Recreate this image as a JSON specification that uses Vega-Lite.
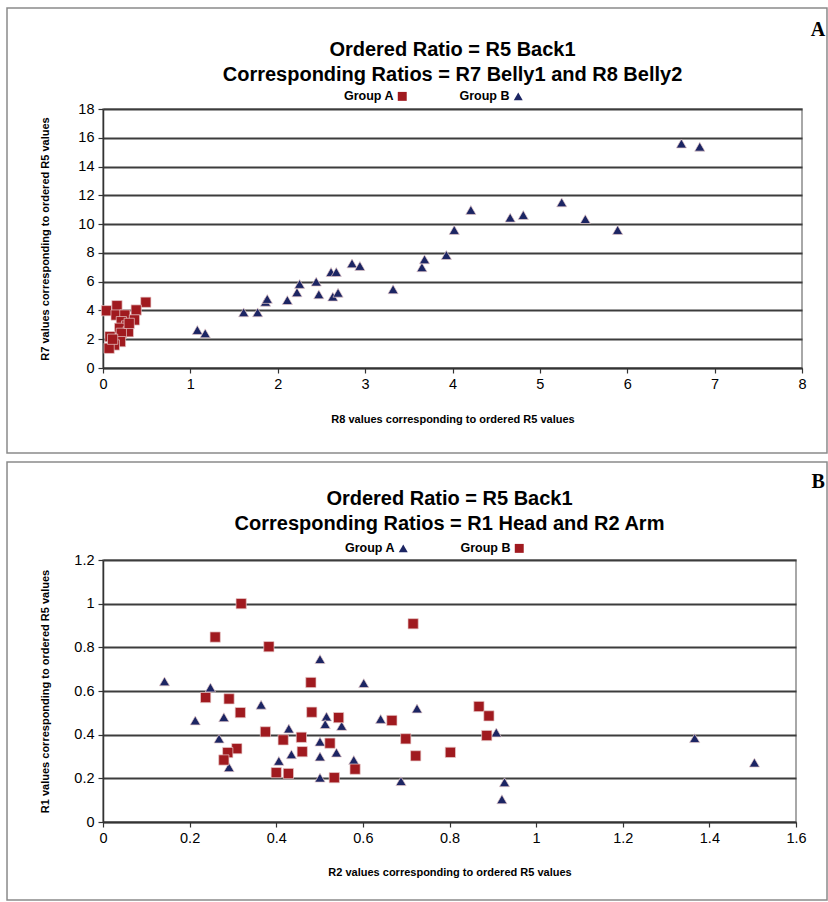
{
  "$schema": "https://vega.github.io/schema/vega-lite/v6.json",
  "background": "white",
  "padding": {"left": 5, "top": 6, "right": 0, "bottom": 0},
  "spacing": 5,
  "align": "none",
  "config": {
    "font": "Liberation Sans",
    "view": {"stroke": "#8c8c8c", "strokeWidth": 1.5},
    "axis": {
      "labelFont": "Liberation Sans", "labelFontSize": 14.5, "labelColor": "#000",
      "titleFont": "Liberation Sans", "titleFontSize": 11, "titleFontWeight": "bold", "titleColor": "#000",
      "domainColor": "#333", "domainWidth": 1.5, "tickColor": "#333", "tickSize": 5, "tickWidth": 1.2,
      "gridColor": "#3c3c3c", "gridWidth": 2, "gridOpacity": 1, "labelPadding": 4, "labelOverlap": false, "labelFlush": false
    },
    "legend": {"labelFont": "Liberation Sans", "labelFontSize": 12.5, "labelFontWeight": "bold", "labelColor": "#000"}
  },
  "datasets": {
    "panelA": [
      {"group": "Group A", "r8": 0.04, "r7": 3.98},
      {"group": "Group A", "r8": 0.16, "r7": 4.33},
      {"group": "Group A", "r8": 0.49, "r7": 4.57},
      {"group": "Group A", "r8": 0.38, "r7": 4.03},
      {"group": "Group A", "r8": 0.15, "r7": 3.68},
      {"group": "Group A", "r8": 0.25, "r7": 3.68},
      {"group": "Group A", "r8": 0.36, "r7": 3.34},
      {"group": "Group A", "r8": 0.21, "r7": 3.22},
      {"group": "Group A", "r8": 0.27, "r7": 2.92},
      {"group": "Group A", "r8": 0.19, "r7": 2.76},
      {"group": "Group A", "r8": 0.29, "r7": 2.52},
      {"group": "Group A", "r8": 0.21, "r7": 2.41},
      {"group": "Group A", "r8": 0.08, "r7": 2.18},
      {"group": "Group A", "r8": 0.20, "r7": 1.83},
      {"group": "Group A", "r8": 0.13, "r7": 1.60},
      {"group": "Group A", "r8": 0.07, "r7": 1.37},
      {"group": "Group A", "r8": 0.11, "r7": 2.00},
      {"group": "Group A", "r8": 0.30, "r7": 3.10},
      {"group": "Group B", "r8": 1.08, "r7": 2.64},
      {"group": "Group B", "r8": 1.17, "r7": 2.41},
      {"group": "Group B", "r8": 1.61, "r7": 3.87},
      {"group": "Group B", "r8": 1.77, "r7": 3.87},
      {"group": "Group B", "r8": 1.86, "r7": 4.60},
      {"group": "Group B", "r8": 1.88, "r7": 4.80},
      {"group": "Group B", "r8": 2.11, "r7": 4.72},
      {"group": "Group B", "r8": 2.22, "r7": 5.26},
      {"group": "Group B", "r8": 2.25, "r7": 5.84},
      {"group": "Group B", "r8": 2.44, "r7": 6.00},
      {"group": "Group B", "r8": 2.47, "r7": 5.12},
      {"group": "Group B", "r8": 2.63, "r7": 4.96},
      {"group": "Group B", "r8": 2.69, "r7": 5.23},
      {"group": "Group B", "r8": 2.61, "r7": 6.67},
      {"group": "Group B", "r8": 2.67, "r7": 6.67},
      {"group": "Group B", "r8": 2.85, "r7": 7.27},
      {"group": "Group B", "r8": 2.94, "r7": 7.09},
      {"group": "Group B", "r8": 3.32, "r7": 5.47},
      {"group": "Group B", "r8": 3.65, "r7": 7.00},
      {"group": "Group B", "r8": 3.68, "r7": 7.55},
      {"group": "Group B", "r8": 3.93, "r7": 7.85},
      {"group": "Group B", "r8": 4.02, "r7": 9.59},
      {"group": "Group B", "r8": 4.21, "r7": 10.98},
      {"group": "Group B", "r8": 4.66, "r7": 10.45},
      {"group": "Group B", "r8": 4.81, "r7": 10.63},
      {"group": "Group B", "r8": 5.25, "r7": 11.51},
      {"group": "Group B", "r8": 5.52, "r7": 10.35},
      {"group": "Group B", "r8": 5.89, "r7": 9.59},
      {"group": "Group B", "r8": 6.62, "r7": 15.60},
      {"group": "Group B", "r8": 6.83, "r7": 15.38}
    ],
    "panelB": [
      {"group": "Group A", "r2": 0.142, "r1": 0.644},
      {"group": "Group A", "r2": 0.248, "r1": 0.616},
      {"group": "Group A", "r2": 0.501, "r1": 0.746},
      {"group": "Group A", "r2": 0.365, "r1": 0.537},
      {"group": "Group A", "r2": 0.213, "r1": 0.465},
      {"group": "Group A", "r2": 0.279, "r1": 0.480},
      {"group": "Group A", "r2": 0.429, "r1": 0.428},
      {"group": "Group A", "r2": 0.516, "r1": 0.483},
      {"group": "Group A", "r2": 0.513, "r1": 0.448},
      {"group": "Group A", "r2": 0.551, "r1": 0.440},
      {"group": "Group A", "r2": 0.268, "r1": 0.382},
      {"group": "Group A", "r2": 0.501, "r1": 0.368},
      {"group": "Group A", "r2": 0.435, "r1": 0.310},
      {"group": "Group A", "r2": 0.501, "r1": 0.300},
      {"group": "Group A", "r2": 0.539, "r1": 0.318},
      {"group": "Group A", "r2": 0.406, "r1": 0.280},
      {"group": "Group A", "r2": 0.291, "r1": 0.251},
      {"group": "Group A", "r2": 0.501, "r1": 0.203},
      {"group": "Group A", "r2": 0.602, "r1": 0.636},
      {"group": "Group A", "r2": 0.725, "r1": 0.520},
      {"group": "Group A", "r2": 0.641, "r1": 0.472},
      {"group": "Group A", "r2": 0.908, "r1": 0.410},
      {"group": "Group A", "r2": 0.579, "r1": 0.284},
      {"group": "Group A", "r2": 0.688, "r1": 0.187},
      {"group": "Group A", "r2": 0.927, "r1": 0.182},
      {"group": "Group A", "r2": 0.921, "r1": 0.104},
      {"group": "Group A", "r2": 1.366, "r1": 0.384},
      {"group": "Group A", "r2": 1.504, "r1": 0.272},
      {"group": "Group B", "r2": 0.319, "r1": 1.000},
      {"group": "Group B", "r2": 0.259, "r1": 0.847},
      {"group": "Group B", "r2": 0.383, "r1": 0.803},
      {"group": "Group B", "r2": 0.480, "r1": 0.639},
      {"group": "Group B", "r2": 0.237, "r1": 0.570},
      {"group": "Group B", "r2": 0.291, "r1": 0.564},
      {"group": "Group B", "r2": 0.317, "r1": 0.501},
      {"group": "Group B", "r2": 0.482, "r1": 0.503},
      {"group": "Group B", "r2": 0.544, "r1": 0.478},
      {"group": "Group B", "r2": 0.375, "r1": 0.413},
      {"group": "Group B", "r2": 0.416, "r1": 0.376},
      {"group": "Group B", "r2": 0.458, "r1": 0.388},
      {"group": "Group B", "r2": 0.524, "r1": 0.361},
      {"group": "Group B", "r2": 0.309, "r1": 0.336},
      {"group": "Group B", "r2": 0.460, "r1": 0.322},
      {"group": "Group B", "r2": 0.288, "r1": 0.318},
      {"group": "Group B", "r2": 0.279, "r1": 0.284},
      {"group": "Group B", "r2": 0.400, "r1": 0.226},
      {"group": "Group B", "r2": 0.428, "r1": 0.222},
      {"group": "Group B", "r2": 0.534, "r1": 0.203},
      {"group": "Group B", "r2": 0.716, "r1": 0.908},
      {"group": "Group B", "r2": 0.667, "r1": 0.465},
      {"group": "Group B", "r2": 0.868, "r1": 0.529},
      {"group": "Group B", "r2": 0.891, "r1": 0.486},
      {"group": "Group B", "r2": 0.886, "r1": 0.396},
      {"group": "Group B", "r2": 0.699, "r1": 0.381},
      {"group": "Group B", "r2": 0.722, "r1": 0.303},
      {"group": "Group B", "r2": 0.802, "r1": 0.319},
      {"group": "Group B", "r2": 0.582, "r1": 0.242}
    ]
  },
  "resolve": {
    "scale": {"x": "independent", "y": "independent", "color": "independent", "shape": "independent"},
    "legend": {"color": "independent", "shape": "independent"}
  },
  "vconcat": [
    {
      "width": 699,
      "height": 259,
      "title": {
        "text": ["Ordered Ratio = R5 Back1", "Corresponding Ratios = R7 Belly1 and R8 Belly2"],
        "font": "Liberation Sans", "fontSize": 20, "fontWeight": "bold", "color": "#000",
        "lineHeight": 25, "anchor": "middle", "frame": "group", "offset": -77.5
      },
      "resolve": {"axis": {"x": "independent", "y": "independent"}},
      "layer": [
        {
          "data": {"values": [{"x1": -1.0987, "x2": 8.286, "y1": -5.91, "y2": 25.02}]},
          "mark": {"type": "rect", "filled": false, "fill": null, "stroke": "#8a8a8a", "strokeWidth": 1.5, "clip": false},
          "encoding": {
            "x": {"field": "x1", "type": "quantitative", "axis": null},
            "x2": {"field": "x2"},
            "y": {"field": "y1", "type": "quantitative", "axis": null},
            "y2": {"field": "y2"}
          }
        },
        {
          "data": {"name": "panelA"},
          "mark": {"type": "point", "filled": true, "opacity": 1, "size": 105, "stroke": "#e8cccc", "strokeWidth": 0.7},
          "encoding": {
            "x": {"field": "r8", "type": "quantitative",
              "scale": {"domain": [0, 8], "nice": false, "zero": false},
              "axis": {"values": [0, 1, 2, 3, 4, 5, 6, 7, 8], "labelExpr": "format(datum.value, '~g')", "grid": false, "title": "R8 values corresponding to ordered R5 values", "titlePadding": 23}},
            "y": {"field": "r7", "type": "quantitative",
              "scale": {"domain": [0, 18], "nice": false, "zero": false},
              "axis": {"values": [0, 2, 4, 6, 8, 10, 12, 14, 16, 18], "labelExpr": "format(datum.value, '~g')", "grid": true, "title": "R7 values corresponding to ordered R5 values", "titlePadding": 27}},
            "color": {"field": "group", "type": "nominal",
              "scale": {"domain": ["Group A", "Group B"], "range": ["#A01A1F", "#1C2563"]},
              "legend": {"orient": "none", "legendX": 293, "legendY": -19, "direction": "horizontal", "title": null, "symbolSize": 80, "columnPadding": 52, "labelAlign": "right", "labelOffset": -15, "symbolStrokeWidth": 0}},
            "shape": {"field": "group", "type": "nominal",
              "scale": {"domain": ["Group A", "Group B"], "range": ["square", "triangle-up"]},
              "legend": {"orient": "none", "legendX": 293, "legendY": -19, "direction": "horizontal", "title": null, "symbolSize": 80, "columnPadding": 52, "labelAlign": "right", "labelOffset": -15, "symbolStrokeWidth": 0}}
          }
        },
        {
          "data": {"values": [{"label": "A", "x": 8.183, "y": 23.5}]},
          "mark": {"type": "text", "font": "Liberation Serif", "fontSize": 20, "fontWeight": "bold", "color": "#000", "clip": false, "baseline": "middle", "align": "center"},
          "encoding": {
            "x": {"field": "x", "type": "quantitative", "axis": null},
            "y": {"field": "y", "type": "quantitative", "axis": null},
            "text": {"field": "label"}
          }
        }
      ]
    },
    {
      "width": 693,
      "height": 262,
      "title": {
        "text": ["Ordered Ratio = R5 Back1", "Corresponding Ratios = R1 Head and R2 Arm"],
        "font": "Liberation Sans", "fontSize": 20, "fontWeight": "bold", "color": "#000",
        "lineHeight": 25, "anchor": "middle", "frame": "group", "offset": -73
      },
      "resolve": {"axis": {"x": "independent", "y": "independent"}},
      "layer": [
        {
          "data": {"values": [{"x1": -0.2216, "x2": 1.6716, "y1": -0.357, "y2": 1.649}]},
          "mark": {"type": "rect", "filled": false, "fill": null, "stroke": "#8a8a8a", "strokeWidth": 1.5, "clip": false},
          "encoding": {
            "x": {"field": "x1", "type": "quantitative", "axis": null},
            "x2": {"field": "x2"},
            "y": {"field": "y1", "type": "quantitative", "axis": null},
            "y2": {"field": "y2"}
          }
        },
        {
          "data": {"name": "panelB"},
          "mark": {"type": "point", "filled": true, "opacity": 1, "size": 105, "stroke": "#e8cccc", "strokeWidth": 0.7},
          "encoding": {
            "x": {"field": "r2", "type": "quantitative",
              "scale": {"domain": [0, 1.6], "nice": false, "zero": false},
              "axis": {"values": [0, 0.2, 0.4, 0.6, 0.8, 1, 1.2, 1.4, 1.6], "labelExpr": "format(datum.value, '~g')", "grid": false, "title": "R2 values corresponding to ordered R5 values", "titlePadding": 22}},
            "y": {"field": "r1", "type": "quantitative",
              "scale": {"domain": [0, 1.2], "nice": false, "zero": false},
              "axis": {"values": [0, 0.2, 0.4, 0.6, 0.8, 1, 1.2], "labelExpr": "format(datum.value, '~g')", "grid": true, "title": "R1 values corresponding to ordered R5 values", "titlePadding": 23}},
            "color": {"field": "group", "type": "nominal",
              "scale": {"domain": ["Group A", "Group B"], "range": ["#1C2563", "#A01A1F"]},
              "legend": {"orient": "none", "legendX": 294, "legendY": -18, "direction": "horizontal", "title": null, "symbolSize": 80, "columnPadding": 52, "labelAlign": "right", "labelOffset": -15, "symbolStrokeWidth": 0}},
            "shape": {"field": "group", "type": "nominal",
              "scale": {"domain": ["Group A", "Group B"], "range": ["triangle-up", "square"]},
              "legend": {"orient": "none", "legendX": 294, "legendY": -18, "direction": "horizontal", "title": null, "symbolSize": 80, "columnPadding": 52, "labelAlign": "right", "labelOffset": -15, "symbolStrokeWidth": 0}}
          }
        },
        {
          "data": {"values": [{"label": "B", "x": 1.651, "y": 1.557}]},
          "mark": {"type": "text", "font": "Liberation Serif", "fontSize": 20, "fontWeight": "bold", "color": "#000", "clip": false, "baseline": "middle", "align": "center"},
          "encoding": {
            "x": {"field": "x", "type": "quantitative", "axis": null},
            "y": {"field": "y", "type": "quantitative", "axis": null},
            "text": {"field": "label"}
          }
        }
      ]
    }
  ]
}
